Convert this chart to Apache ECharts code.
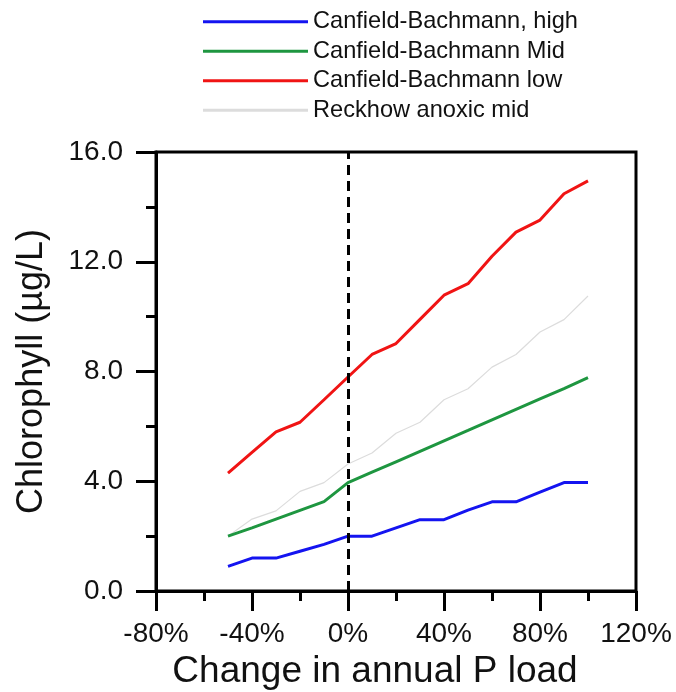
<!DOCTYPE html>
<html>
<head>
<meta charset="utf-8">
<script src="https://cdn.jsdelivr.net/npm/echarts@6/dist/echarts.min.js"></script>
<style>
html,body{margin:0;padding:0;background:#fff;}
#chart{width:676px;height:692px;}
</style>
</head>
<body>
<div id="chart"></div>
<script>
// Data (x = change in annual P load, %)
const loadChange = [-50, -40, -30, -20, -10, 0, 10, 20, 30, 40, 50, 60, 70, 80, 90, 100];
const cbHigh = [0.9, 1.2, 1.2, 1.45, 1.7, 2.0, 2.0, 2.3, 2.6, 2.6, 2.95, 3.25, 3.25, 3.6, 3.95, 3.95];
const cbMid  = [2.0, 2.3, 2.62, 2.94, 3.26, 3.95, 4.33, 4.71, 5.09, 5.47, 5.85, 6.24, 6.62, 7.0, 7.38, 7.78];
const cbLow  = [4.3, 5.05, 5.8, 6.15, 6.97, 7.8, 8.62, 9.02, 9.9, 10.78, 11.2, 12.2, 13.08, 13.52, 14.48, 14.95];
const reckhowMid = [2.0, 2.62, 2.92, 3.63, 3.95, 4.63, 5.03, 5.75, 6.15, 6.97, 7.37, 8.16, 8.62, 9.44, 9.89, 10.75];
const seriesNames = ['Canfield-Bachmann, high', 'Canfield-Bachmann Mid', 'Canfield-Bachmann low', 'Reckhow anoxic mid'];
const xTicks = [-80, -40, 0, 40, 80, 120];
const yTicks = [0, 4, 8, 12, 16];

function pairs(vals) { return loadChange.map((x, i) => [x, vals[i]]); }

const chart = echarts.init(document.getElementById('chart'), null, {renderer: 'canvas'});
const font = 'Liberation Sans, Arial, sans-serif';
const axisCommon = {
  axisLine: {show: true, onZero: false, lineStyle: {color: '#000', width: 3}},
  axisTick: {show: true, inside: false, length: 20, lineStyle: {color: '#000', width: 3}},
  minorTick: {show: true, splitNumber: 2, length: 10, lineStyle: {color: '#000', width: 3}},
  splitLine: {show: false},
  minorSplitLine: {show: false}
};
const lineSeries = (name, vals, color, width, z) => ({
  name: name, type: 'line', data: pairs(vals), symbol: 'none', showSymbol: false, z: z,
  lineStyle: {color: color, width: width}, itemStyle: {color: color}
});

chart.setOption({
  animation: false,
  backgroundColor: '#fff',
  grid: {left: 156, right: 40, top: 152, bottom: 101, show: true, borderColor: '#000', borderWidth: 3,
         backgroundColor: 'transparent', containLabel: false, outerBoundsMode: 'none'},
  legend: {
    data: seriesNames, orient: 'vertical', left: 198, top: 2,
    icon: 'rect', itemWidth: 105, itemHeight: 3, itemGap: 0,
    textStyle: {fontFamily: font, fontSize: 23.6, color: '#111', lineHeight: 29.5, padding: [0, 0, 0, 0]}
  },
  xAxis: Object.assign({
    type: 'value', min: xTicks[0], max: xTicks[xTicks.length - 1], interval: 40,
    name: 'Change in annual P load', nameLocation: 'middle', nameGap: 56,
    nameTextStyle: {fontFamily: font, fontSize: 37, color: '#111', padding: [0, 42, 0, 0]},
    axisLabel: {margin: 29, fontFamily: font, fontSize: 28, color: '#111', formatter: v => v + '%'}
  }, axisCommon),
  yAxis: Object.assign({
    type: 'value', min: yTicks[0], max: yTicks[yTicks.length - 1], interval: 4,
    name: 'Chlorophyll (\u00b5g/L)', nameLocation: 'middle', nameGap: 106,
    nameTextStyle: {fontFamily: font, fontSize: 36, color: '#111'},
    axisLabel: {margin: 33, fontFamily: font, fontSize: 28, color: '#111', formatter: v => v.toFixed(1)}
  }, axisCommon),
  series: [
    lineSeries(seriesNames[3], reckhowMid, '#dcdcdc', 1.2, 2),
    lineSeries(seriesNames[1], cbMid, '#1e9640', 3, 3),
    lineSeries(seriesNames[0], cbHigh, '#1414f0', 3, 3),
    lineSeries(seriesNames[2], cbLow, '#f01414', 3, 3),
    {
      name: 'zero', type: 'line', data: [], z: 10,
      markLine: {
        silent: true, symbol: 'none', label: {show: false},
        lineStyle: {color: '#000', width: 3, type: [10, 6]},
        data: [{xAxis: 0}]
      }
    }
  ]
});
</script>
</body>
</html>
